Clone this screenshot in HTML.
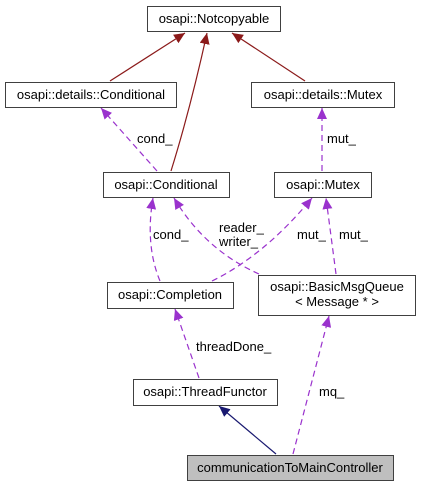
<!DOCTYPE html>
<html><head><style>
body{margin:0;background:#fff}
svg text{font-family:"Liberation Sans",sans-serif;font-size:13px;fill:#000}
</style></head><body>
<svg width="421" height="487" xmlns="http://www.w3.org/2000/svg">
<defs>
<marker id="r" markerWidth="12" markerHeight="10" refX="11" refY="5" orient="auto" markerUnits="userSpaceOnUse"><path d="M0,0 L11,5 L0,10z" fill="#8b1a1a"/></marker>
<marker id="p" markerWidth="12" markerHeight="10" refX="11" refY="5" orient="auto" markerUnits="userSpaceOnUse"><path d="M0,0 L11,5 L0,10z" fill="#9a32cd"/></marker>
<marker id="b" markerWidth="12" markerHeight="10" refX="11" refY="5" orient="auto" markerUnits="userSpaceOnUse"><path d="M0,0 L11,5 L0,10z" fill="#191970"/></marker>
</defs>
<g fill="none" stroke="#8b1a1a" stroke-width="1.2">
<path d="M110,81 L185,33" marker-end="url(#r)"/>
<path d="M171,171 Q190,110 207,33" marker-end="url(#r)"/>
<path d="M305,81 L232,33" marker-end="url(#r)"/>
</g>
<g fill="none" stroke="#9a32cd" stroke-width="1.2" stroke-dasharray="6,4">
<path d="M157,171 L101,108" marker-end="url(#p)"/>
<path d="M322,171 L322,108" marker-end="url(#p)"/>
<path d="M160,281 Q145,245 153,198" marker-end="url(#p)"/>
<path d="M259,274 Q205,250 174,198" marker-end="url(#p)"/>
<path d="M212,281 Q265,255 312,198" marker-end="url(#p)"/>
<path d="M336,274 L326,198" marker-end="url(#p)"/>
<path d="M199,378 L175,309" marker-end="url(#p)"/>
<path d="M293,454 L329,316" marker-end="url(#p)"/>
</g>
<path d="M276,454 L219,406" fill="none" stroke="#191970" stroke-width="1.2" marker-end="url(#b)"/>
<g stroke="#404040" stroke-width="1" fill="#fff">
<rect x="147.5" y="6.5" width="133" height="25"/>
<rect x="5.5" y="82.5" width="171" height="25"/>
<rect x="251.5" y="82.5" width="143" height="25"/>
<rect x="103.5" y="172.5" width="126" height="25"/>
<rect x="274.5" y="172.5" width="97" height="25"/>
<rect x="107.5" y="282.5" width="126" height="26"/>
<rect x="258.5" y="275.5" width="157" height="40"/>
<rect x="133.5" y="379.5" width="144" height="26"/>
<rect x="187.5" y="455.5" width="206" height="25" fill="#bfbfbf"/>
</g>
<g text-anchor="middle">
<text x="214" y="23">osapi::Notcopyable</text>
<text x="91" y="99">osapi::details::Conditional</text>
<text x="323" y="99">osapi::details::Mutex</text>
<text x="166" y="189">osapi::Conditional</text>
<text x="323" y="189">osapi::Mutex</text>
<text x="170" y="299">osapi::Completion</text>
<text x="337" y="291">osapi::BasicMsgQueue</text>
<text x="337" y="306">&lt; Message * &gt;</text>
<text x="205" y="396">osapi::ThreadFunctor</text>
<text x="290" y="472">communicationToMainController</text>
</g>
<text x="137" y="143">cond_</text>
<text x="327" y="143">mut_</text>
<text x="153" y="239">cond_</text>
<text x="219" y="232">reader_</text>
<text x="219" y="246">writer_</text>
<text x="297" y="239">mut_</text>
<text x="339" y="239">mut_</text>
<text x="196" y="351">threadDone_</text>
<text x="319" y="396">mq_</text>
</svg>
</body></html>
